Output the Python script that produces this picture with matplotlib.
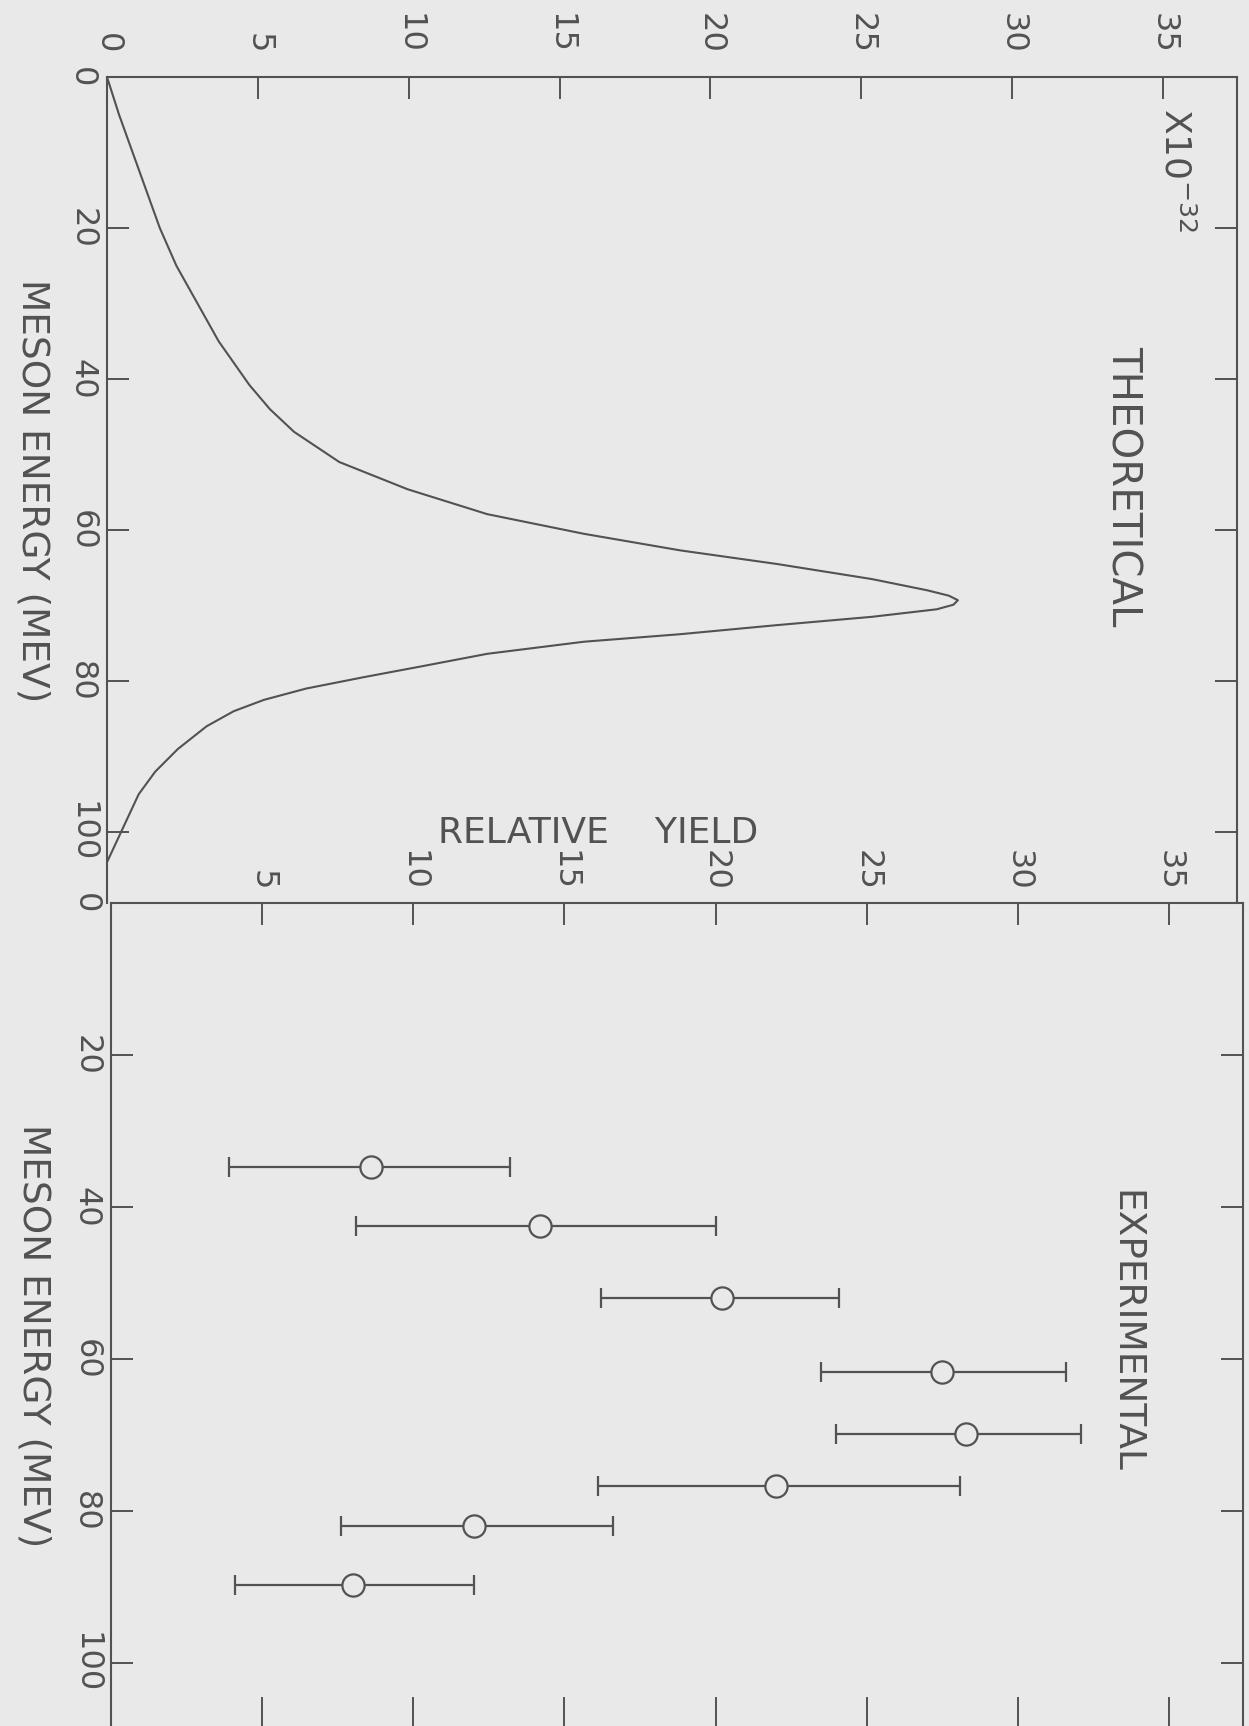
import matplotlib.pyplot as plt
import numpy as np

# theoretical curve (relative yield x1e-32 vs meson energy, MeV)
energy_theory = [0, 5, 10, 15, 20, 25, 30, 35, 40.8, 44, 47, 51, 54.6, 57.9, 60.5, 62.7,
                 64.5, 66.5, 68.0, 68.7, 69.3, 69.9, 70.5, 71.5, 72.6, 73.8, 74.8, 76.4,
                 78, 79.5, 81, 82.5, 84, 86, 89, 92, 95, 98, 101, 104]
yield_theory = [0, 0.4, 0.85, 1.3, 1.75, 2.3, 3.0, 3.7, 4.72, 5.4, 6.2, 7.7, 9.96, 12.6,
                15.8, 19.0, 22.2, 25.35, 27.2, 27.9, 28.2, 28.05, 27.5, 25.35, 22.2, 19.0,
                15.8, 12.6, 10.5, 8.5, 6.6, 5.2, 4.2, 3.3, 2.35, 1.6, 1.05, 0.7, 0.35, 0.0]

# experimental points with error bar ends
energy_exp = [34.7, 42.5, 52.0, 61.7, 69.9, 76.7, 82.0, 89.7]
yield_exp = [8.6, 14.2, 20.2, 27.5, 28.3, 22.0, 12.0, 8.0]
yield_low = [3.9, 8.1, 16.2, 23.5, 24.0, 16.1, 7.6, 4.1]
yield_high = [13.2, 20.0, 24.1, 31.6, 32.1, 28.1, 16.6, 12.0]

yield_ticks = [0, 5, 10, 15, 20, 25, 30, 35]
energy_ticks = [0, 20, 40, 60, 80, 100]

bg = '#e9e9e9'
ink = '#525252'
W, H = 1249, 1726

plt.rcParams['font.family'] = ['DejaVu Sans']
digits = ['Liberation Sans Narrow', 'DejaVu Sans']

fig = plt.figure(figsize=(W / 100, H / 100), dpi=100, facecolor=bg)

# top panel: theoretical
ax1 = fig.add_axes([107 / W, 1 - 903 / H, (1237 - 107) / W, (903 - 77) / H])
# bottom panel: experimental (runs off the bottom of the page)
ax2 = fig.add_axes([111 / W, 1 - 1730 / H, (1243 - 111) / W, (1730 - 903) / H])

for ax in (ax1, ax2):
    ax.set_facecolor(bg)
    for s in ax.spines.values():
        s.set_color(ink)
        s.set_linewidth(1.5)
    ax.xaxis.tick_top()
    ax.tick_params(axis='both', direction='in', length=16, width=1.4,
                   colors=ink, labelsize=23)
    ax.tick_params(axis='y', left=True, right=True, labelleft=True,
                   labelright=False, labelrotation=-90, pad=7)
    ax.set_yticks(energy_ticks)
    ax.set_yticklabels([str(v) for v in energy_ticks], family=digits)
    for lab in ax.get_yticklabels():
        lab.set_va('center')

ax1.set_xlim(0, 37.45)
ax1.set_ylim((903 - 77) / 7.55, 0)
ax1.set_xticks(yield_ticks)
ax1.set_xticklabels([str(v) for v in yield_ticks], family=digits)
ax1.tick_params(axis='x', top=True, bottom=False, labeltop=True,
                labelbottom=False, labelrotation=-90, pad=17)
ax1.spines['bottom'].set_visible(False)
ax1.plot(yield_theory, energy_theory, color=ink, lw=1.5)

ax2.set_xlim(0, 37.45)
ax2.set_ylim((1730 - 903) / 7.6, 0)
ax2.set_xticks(yield_ticks[1:])
ax2.set_xticklabels([str(v) for v in yield_ticks[1:]], family=digits)
ax2.tick_params(axis='x', top=True, bottom=False, labeltop=True,
                labelbottom=False, labelrotation=-90, pad=9)
# the lower yield axis sits just below the page edge, only its ticks show
sec = ax2.secondary_xaxis('bottom')
sec.set_xticks(yield_ticks[1:])
sec.tick_params(axis='x', direction='in', length=24, width=1.4, colors=ink,
                labelbottom=False)

ye = np.array(yield_exp)
xerr = [ye - np.array(yield_low), np.array(yield_high) - ye]
ax2.errorbar(yield_exp, energy_exp, xerr=xerr, fmt='o', color=ink, mfc=bg,
             mec=ink, ms=16, mew=1.6, elinewidth=1.6, capsize=7, capthick=1.6)

# texts (all vertical except the yield label)
fig.text(32 / W, 1 - 491 / H, 'MESON ENERGY (MEV)', rotation=-90, ha='center',
         va='center', fontsize=27, color=ink)
fig.text(33 / W, 1 - 1336 / H, 'MESON ENERGY (MEV)', rotation=-90, ha='center',
         va='center', fontsize=27, color=ink)
fig.text(1123 / W, 1 - 486 / H, 'THEORETICAL', rotation=-90, ha='center',
         va='center', fontsize=29, color=ink)
fig.text(1125 / W, 1 - 1331 / H, 'EXPERIMENTAL', rotation=-90, ha='center',
         va='center', fontsize=27, color=ink)
fig.text(598 / W, 1 - 833 / H, 'RELATIVE    YIELD', ha='center', va='center',
         fontsize=26, color=ink)
fig.text(1176 / W, 1 - 108 / H, 'X10$^{-32}$', rotation=-90, ha='center',
         va='top', fontsize=26, color=ink)

fig.savefig('out.png', dpi=100, facecolor=bg)
